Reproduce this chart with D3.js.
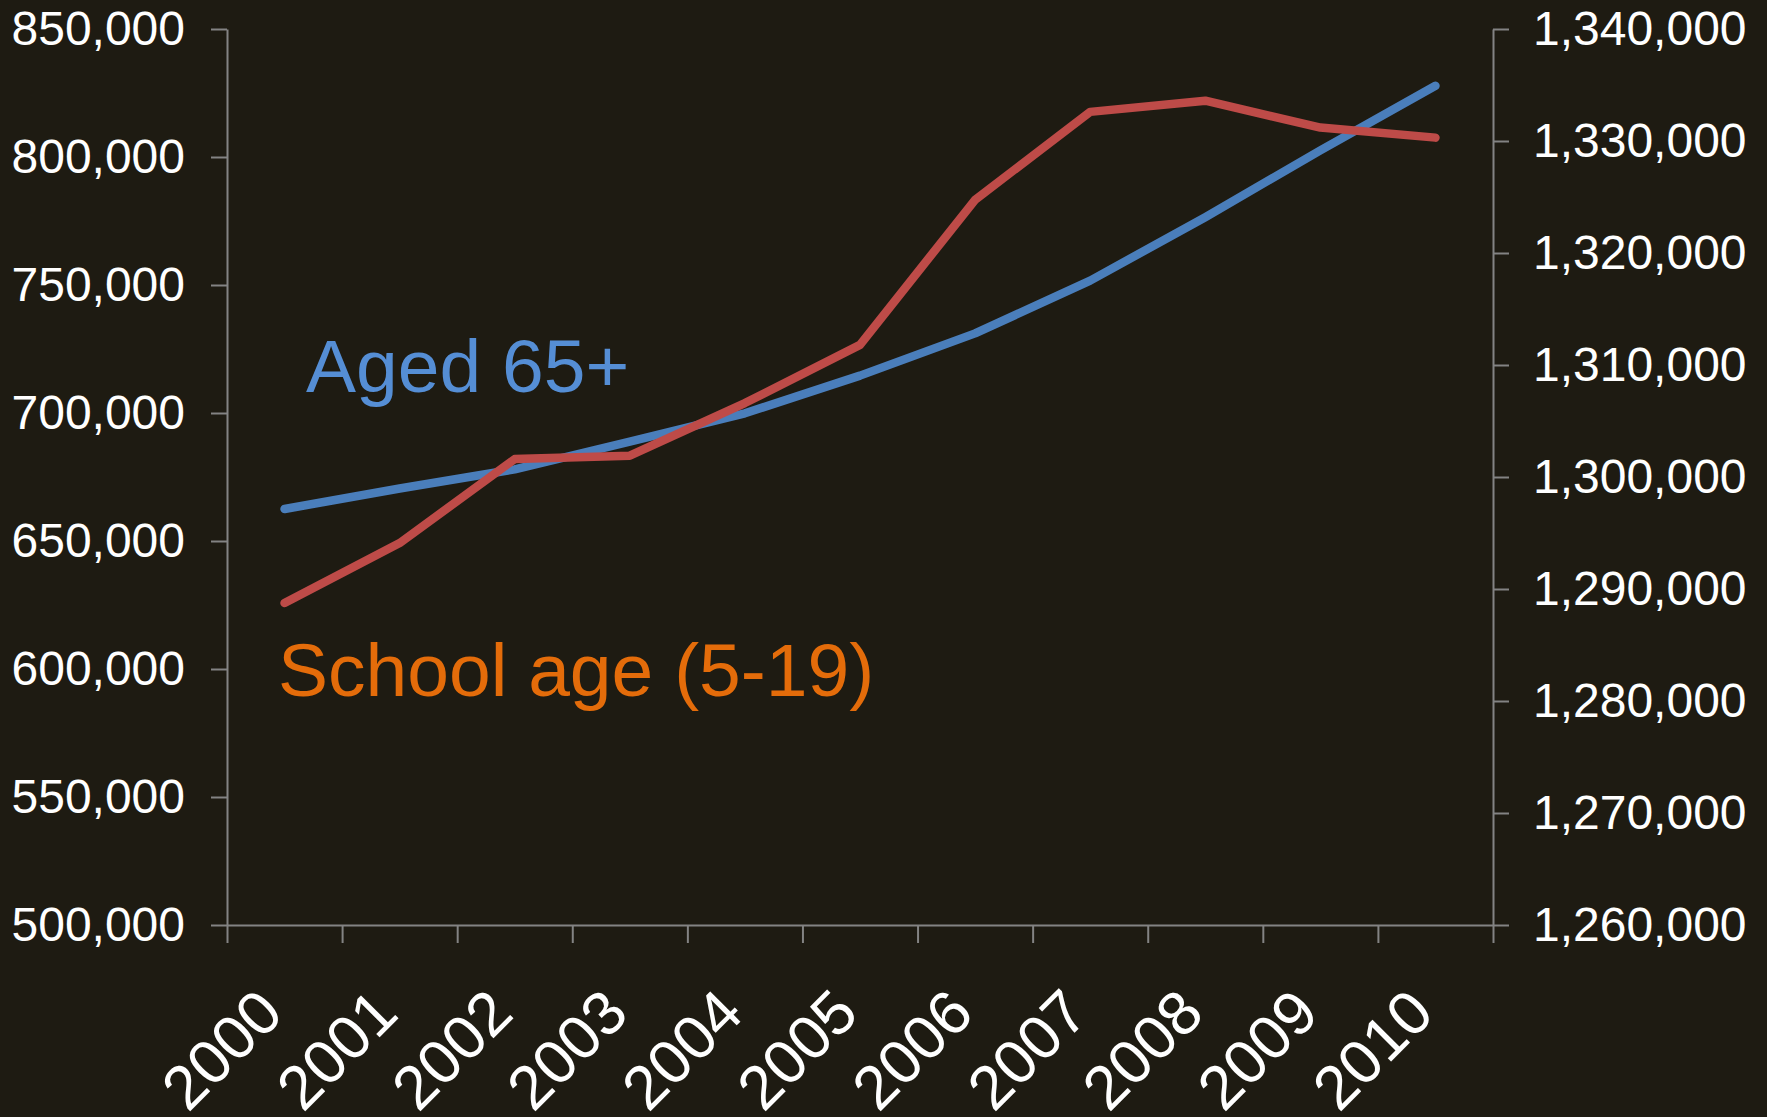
<!DOCTYPE html>
<html>
<head>
<meta charset="utf-8">
<script src="https://cdn.jsdelivr.net/npm/d3@7"></script>
<style>
  html, body { margin: 0; padding: 0; background: #1e1b12; }
  svg { display: block; }
  text { font-family: "Liberation Sans", Arial, sans-serif; }
</style>
</head>
<body>
<div id="chart"></div>
<script>
// chart values
const years = ['2000', '2001', '2002', '2003', '2004', '2005', '2006', '2007', '2008', '2009', '2010'];
const aged65 = [662500, 670500, 678000, 688800, 699900, 714600, 731100, 751700, 776500, 802600, 827800];
const schoolAge = [1288750, 1294100, 1301600, 1301900, 1306600, 1311800, 1324750, 1332600, 1333600, 1331200, 1330300];
const leftTicks = [500000, 550000, 600000, 650000, 700000, 750000, 800000, 850000];
const rightTicks = [1260000, 1270000, 1280000, 1290000, 1300000, 1310000, 1320000, 1330000, 1340000];

const config = {
  width: 1767,
  height: 1117,
  margin: {top: 29, right: 274, bottom: 192, left: 227},
  axisColor: '#838383',
  tickSize: 16
};

const svg = d3.select('#chart').append('svg')
    .attr('width', config.width)
    .attr('height', config.height);

svg.append('rect')
    .attr('width', config.width)
    .attr('height', config.height)
    .attr('fill', '#1e1b12');

const x0 = config.margin.left;
const x1 = config.width - config.margin.right;
const y0 = config.margin.top;
const y1 = config.height - config.margin.bottom;

// scales
const xScale = d3.scaleBand().domain(years).range([x0, x1]);
const xEdges = d3.scaleLinear().domain([0, years.length]).range([x0, x1]);
const yLeft = d3.scaleLinear().domain([500000, 850000]).range([y1, y0]);
const yRight = d3.scaleLinear().domain([1260000, 1340000]).range([y1, y0]);

const fmt = d3.format(',');

// left axis
const leftG = svg.append('g')
    .attr('transform', `translate(${x0},0)`)
    .call(d3.axisLeft(yLeft).tickValues(leftTicks).tickFormat(fmt)
      .tickSize(config.tickSize).tickSizeOuter(0).tickPadding(26));

// right axis
const rightG = svg.append('g')
    .attr('transform', `translate(${x1},0)`)
    .call(d3.axisRight(yRight).tickValues(rightTicks).tickFormat(fmt)
      .tickSize(config.tickSize).tickSizeOuter(0).tickPadding(24));

// bottom axis: ticks sit on the category edges, labels drawn separately
const bottomG = svg.append('g')
    .attr('transform', `translate(0,${y1})`)
    .call(d3.axisBottom(xEdges).tickValues(d3.range(years.length + 1))
      .tickFormat('').tickSize(18).tickSizeOuter(0));

[leftG, rightG, bottomG].forEach(g => {
  g.selectAll('.domain').attr('stroke', config.axisColor).attr('stroke-width', 2);
  g.selectAll('.tick line').attr('stroke', config.axisColor).attr('stroke-width', 2);
  g.selectAll('.tick text')
    .attr('fill', '#ffffff')
    .attr('font-size', 48)
    .attr('font-family', '"Liberation Sans", Arial, sans-serif');
});

// year labels, rotated
svg.append('g').selectAll('text')
  .data(years)
  .join('text')
    .attr('transform', d => `translate(${xScale(d) + xScale.bandwidth() / 2 + 1},${y1 + 91}) rotate(-45)`)
    .attr('text-anchor', 'end')
    .attr('fill', '#ffffff')
    .attr('font-size', 62)
    .text(d => d);

// lines
const lineLeft = d3.line()
    .x((d, i) => xScale(years[i]) + xScale.bandwidth() / 2)
    .y(d => yLeft(d));

const lineRight = d3.line()
    .x((d, i) => xScale(years[i]) + xScale.bandwidth() / 2)
    .y(d => yRight(d));

svg.append('path')
    .datum(aged65)
    .attr('d', lineLeft)
    .attr('fill', 'none')
    .attr('stroke', '#4a7ebb')
    .attr('stroke-width', 8.5)
    .attr('stroke-linecap', 'round')
    .attr('stroke-linejoin', 'round');

svg.append('path')
    .datum(schoolAge)
    .attr('d', lineRight)
    .attr('fill', 'none')
    .attr('stroke', '#be4b48')
    .attr('stroke-width', 8.5)
    .attr('stroke-linecap', 'round')
    .attr('stroke-linejoin', 'round');

// series labels
svg.append('text')
    .attr('x', 306)
    .attr('y', 392)
    .attr('fill', '#558ed5')
    .attr('font-size', 75)
    .text('Aged 65+');

svg.append('text')
    .attr('x', 278)
    .attr('y', 696)
    .attr('fill', '#e46c0a')
    .attr('font-size', 75)
    .text('School age (5-19)');
</script>
</body>
</html>
